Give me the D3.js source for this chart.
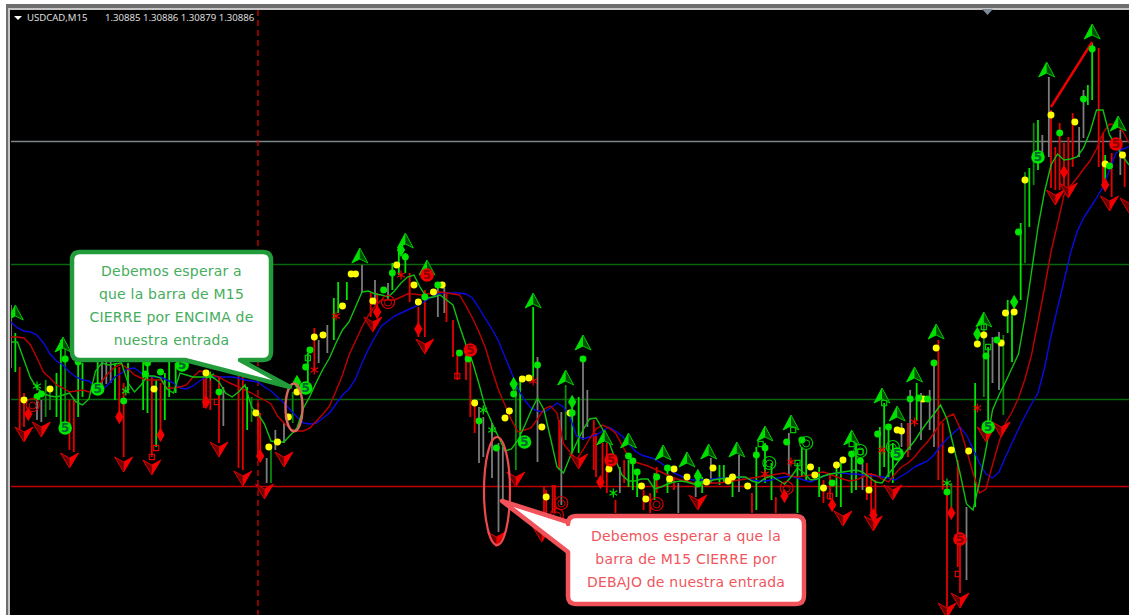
<!DOCTYPE html>
<html>
<head>
<meta charset="utf-8">
<style>
  html, body { margin: 0; padding: 0; background: #fff; overflow: hidden; }
  text { font-family: "DejaVu Sans", sans-serif; }
</style>
<script src="https://cdn.jsdelivr.net/npm/d3@7/dist/d3.min.js"></script>
</head>
<body>
<div class="canvas"></div>
<script>
// header of the MT4 window
const symbolLabel = 'USDCAD,M15';
const ohlcLabel = '1.30885 1.30886 1.30879 1.30886';

// price levels and the cursor, in points below the top of the window
const greyLevel = 141;
const greenLevels = [264, 399];
const redLevel = 486;
const cursorBar = 57;

// moving averages, one reading every 1.5 bars
const blueMa = [
  322,328,331,332,335,343,354,361,365,372,
  377,380,381,387,390,384,377,373,369,368,
  373,376,377,377,380,383,388,389,386,381,
  377,377,377,377,377,378,380,381,382,387,
  391,397,403,410,417,423,424,423,418,413,
  404,395,389,379,363,349,337,326,321,316,
  313,310,307,304,300,296,293,293,293,293,
  294,298,308,319,329,341,357,373,389,400,
  408,411,412,408,403,407,417,436,439,437,
  435,431,427,431,436,443,451,455,457,459,
  463,468,473,476,479,480,480,480,479,478,
  478,477,477,478,480,481,481,480,478,477,
  476,478,480,482,479,476,474,473,473,474,
  474,475,475,476,477,478,480,476,472,467,
  464,461,455,446,439,433,427,435,449,463,
  474,478,472,457,443,429,416,404,393,368,
  336,308,281,253,232,218,208,198,187,170,
  153,149,147];
const redMa = [
  337,337,338,345,358,372,378,385,388,392,
  391,390,392,389,381,373,367,364,369,375,
  378,380,380,380,388,388,387,385,377,371,
  372,375,377,381,384,387,390,393,397,400,
  404,416,423,429,431,431,428,421,414,406,
  391,375,355,341,327,315,306,300,300,300,
  297,294,294,295,294,293,292,293,294,295,
  306,318,332,348,370,390,405,420,432,430,
  428,419,409,406,413,444,452,460,450,439,
  429,425,428,433,445,457,462,464,466,469,
  472,475,478,480,481,483,484,484,483,483,
  482,481,480,479,478,477,476,475,474,473,
  476,477,476,475,473,472,474,477,479,481,
  480,477,474,475,479,482,474,467,463,457,
  449,442,433,423,417,414,428,450,473,493,
  489,465,442,423,412,398,379,355,322,288,
  252,224,195,186,178,169,161,149,133,124,
  125,131,143];
const greenMa = [
  342,342,360,378,388,394,396,397,395,393,
  402,405,399,371,363,365,364,363,383,392,
  385,376,376,378,389,393,373,375,377,377,
  377,377,382,393,397,392,385,407,414,424,
  441,442,442,435,428,408,396,382,369,358,
  343,330,322,307,292,291,294,295,297,291,
  283,277,275,288,298,297,295,300,305,326,
  345,362,384,408,423,437,451,449,440,426,
  411,398,410,438,467,473,457,443,430,419,
  418,429,442,460,475,481,481,479,479,489,
  487,484,482,481,482,484,484,482,480,479,
  478,478,477,477,481,483,478,476,480,484,
  477,468,473,480,479,476,474,473,472,471,
  470,472,477,482,483,474,466,457,449,441,
  431,422,414,405,419,446,473,504,510,482,
  449,410,395,382,368,354,317,272,227,192,
  165,154,160,159,157,148,132,110,110,135,
  145,156,165];
const maBars = d3.range(blueMa.length).map(i => i * 1.5);

// bar wicks: [bar, high, low]
const greyWicks = [[0,305,368],[6,393,420],[7,400,422],[21,362,384],[22,360,384],[23,362,383],[49,387,426],[59,458,483],
  [61,430,450],[63,423,443],[71,340,363],[73,325,353],[81,265,293],[84,280,305],[87,283,300],[98.5,287,317],[100,288,313],
  [108,407,463],[109,417,457],[111,423,478],[112.5,443,532],[113.5,447,500],[121.5,357,462],[127,412,505],[132,357,440],
  [133,390,427],[140.5,467,493],[154,483,513],[158,487,497],[161.5,458,483],[168,455,492],[179.5,433,477],[196.5,463,490],
  [205.5,423,447],[207.5,390,450],[210,393,440],[212,390,430],[213,363,447],[220.5,507,580],[226.5,337,383],[228,332,390],
  [238,135,153],[239.5,77,157],[246.5,127,157],[247.5,90,138],[256,130,175]];
const redWicks = [[2,367,432],[3,393,427],[13.5,400,450],[14.5,400,452],[25,367,415],[26,383,457],[32.5,377,457],[34.5,383,433],
  [44.5,373,408],[45,377,405],[46,377,410],[48,377,443],[52.5,375,468],[53.5,373,470],[57,403,453],[57.5,413,457],[70,328,370],
  [83,293,317],[84.5,293,313],[92,273,302],[94,307,337],[95.5,290,337],[100.5,293,322],[102,320,357],[103,350,380],[105,355,380],
  [106,358,417],[107,400,433],[123,487,533],[123.5,490,517],[125,485,513],[125.5,485,513],[126.5,420,470],[134.5,420,470],
  [135,433,477],[136.5,443,487],[137.5,443,493],[139.5,500,513],[141.5,460,483],[146,490,510],[147.5,493,513],[149,467,493],
  [153,477,490],[171,493,513],[176.5,497,513],[187.5,480,503],[189,475,500],[197.5,463,500],[198.5,473,513],[199.5,480,520],
  [207,423,457],[214,340,480],[215,423,490],[216,483,607],[218.5,460,567],[219,540,593],[240,110,188],[241,147,190],[242,123,190],
  [243,143,187],[244,137,190],[245,113,167],[251,48,167],[252,133,185],[254,153,197],[257,157,187]];
const limeWicks = [[1,333,372],[10.5,373,417],[11.5,340,427],[15.5,360,417],[16.5,363,397],[20,355,387],[24,363,400],[27,363,393],
  [30.5,360,410],[31.5,362,413],[33.5,380,447],[35.5,373,420],[36.5,360,397],[38,363,393],[54.5,387,430],[68.5,353,383],[74.5,298,340],
  [75.5,282,313],[77.5,282,300],[88,263,290],[89.5,247,275],[91,253,273],[120.5,307,380],[117.5,377,443],[129.5,407,453],[131,397,453],
  [142.5,460,487],[143.5,463,490],[144.5,472,497],[148.5,473,500],[151.5,467,493],[159.5,477,493],[163.5,465,485],[164.5,465,483],
  [166.5,477,497],[172,447,510],[175.5,463,500],[174,443,483],[181.5,463,513],[182.5,447,477],[183.5,450,480],[186.5,467,497],
  [190.5,463,497],[191.5,463,507],[194,453,493],[195,443,490],[200.5,427,477],[201.5,403,467],[202.5,430,477],[203.5,443,483],
  [209,383,420],[222.5,383,507],[225.5,347,427],[230,300,333],[231,313,362],[233,223,300],[235,168,227],[237,120,170],[248.5,85,105],
  [249.5,43,100],[252.5,155,180]];
const darkWicks = [[8,380,417],[9,390,410],[12.5,345,427],[55.5,397,422],[60,448,483],[65,392,423],[116.5,387,470],[128,385,440],
  [217,483,510],[224.5,320,397],[229,335,415],[234,172,263],[236,123,185]];

// thick trend segment on the last run up: [bar, level]
const trendSegment = [[240,107],[249.5,42]];

// arrows: [bar, tip level]
const upArrows = [[1,305],[12,337],[80.5,248],[91,233],[96,260],[120.5,293],[128,370],[132,335],[137,430],[142.5,433],[150.5,445],
  [156,452],[161,444],[167.5,442],[174,426],[180,415],[194,430],[201,388],[204.5,406],[208.5,367],[213.5,324],[224.5,312],[239,62],
  [249.5,24],[255.5,116]];
const downArrows = [[3,442],[7,437],[13.5,468],[26,472],[32.5,475],[48,457],[53.5,486],[58.5,499],[63,467],[83.5,332],[95.5,354],
  [112,547],[116.5,487],[122.5,542],[131,469],[158.5,510],[192,526],[199,531],[203.5,500],[216,618],[219,608],[225,442],[228.5,437],
  [241,205],[244,198],[253.5,211],[258,213]];

// indicator dots: [bar, level]
const yellowDots = [[3,400],[9,389],[33,389],[45,373],[56.5,413],[59.5,447],[61.5,442],[64,417],[66,392],[70,337],[72,335],[76.5,306],
  [78.5,274],[79.5,274],[83.5,301],[89,265],[93,285],[94,302],[97.5,292],[99.5,285],[107,403],[114,418],[115,411],[118,379],[119.5,378],
  [122.5,427],[123.5,497],[129,413],[138,469],[145.5,486],[146.5,499],[152,479],[153,469],[156,477],[160.5,482],[162,468],[165.5,481],
  [166.5,477],[170,486],[184.5,467],[185.5,475],[187.5,488],[190.5,465],[192,460],[198,490],[204.5,430],[205.5,431],[210.5,399],[213.5,348],
  [217,450],[221,451],[223,344],[224.5,335],[228.5,343],[229.5,313],[231.5,312],[234,180],[240,115],[245.5,122],[252.5,164],[256.5,155]];
const limeDots = [[12.5,359],[15.5,362],[6,397],[7,394],[26,401],[31,374],[34.5,372],[31.5,363],[48,392],[69,350],[68,367],[86,290],[88,273],
  [91,257],[95.5,297],[98.5,285],[103.5,353],[105.5,359],[108,421],[112,448],[116,394],[121.5,365],[129.5,413],[132,359],[142.5,456],[143.5,461],
  [144.5,472],[149,477],[151.5,468],[158.5,484],[172,455],[174,448],[179,442],[182.5,440],[189.5,483],[194,454],[196,461],[200,434],[202.5,427],
  [207.5,399],[209.5,398],[211.5,399],[213,363],[216,492],[225,356],[227.5,340],[232.5,232],[242,133],[247.5,99],[249.5,49],[253.5,166]];

// other indicator signs: [bar, level]
const limeFives = [[12.5,428],[20,389],[39.5,365],[68,388],[118.5,442],[204.5,454],[225.5,427],[237,157]];
const redFives = [[96,275],[106,350],[138.5,460],[219,539],[255,144]];
const limeRings = [[175,463],[183.5,443],[196,451],[203.5,447]];
const redRings = [[5,405],[87,302],[127,503],[126,515],[149,504],[179,488]];
const redDiamonds = [[4,414],[25,417],[34.5,435],[94,329],[84.5,312],[57.5,456],[45,402],[136,482],[189.5,505],[199,515],[217,513],[178.5,496],[243,172],[252.5,185]];
const limeDiamonds = [[66,382],[90,250],[116,384],[129.5,402],[158.5,476],[223,334],[231.5,302]];
const redSquares = [[33.5,448],[32.5,457],[47.5,402],[103,376],[189,496],[218.5,574]];
const limeSquares = [[68.5,358],[201.5,403],[180.5,430],[173,444],[181.5,463],[194,444],[196,452],[224.5,327],[225.5,347]];
const redStars = [[70,370],[75,316],[90,275],[120.5,381],[174,474],[180,462],[201,450],[208.5,422],[223,408]];
const limeStars = [[6,386],[26.5,391],[46,376],[109,410],[111,430],[139,493],[216,483]];

// callout texts
const greenNote = ['Debemos esperar a', 'que la barra de M15', 'CIERRE por ENCIMA de', 'nuestra entrada'];
const redNote = ['Debemos esperar a que la', 'barra de M15 CIERRE por', 'DEBAJO de nuestra entrada'];

const width = 1129;
const height = 615;

const svg = d3.select('.canvas')
  .append('svg')
    .attr('width', width)
    .attr('height', height)
    .style('display', 'block');

// window chrome, then the black chart area
svg.append('rect').attr('width', width).attr('height', height).attr('fill', '#fff');
svg.append('rect').attr('x', 6).attr('y', 4).attr('width', width).attr('height', height).attr('fill', '#6e6e6e');
svg.append('rect').attr('x', 8).attr('y', 8).attr('width', width).attr('height', height).attr('fill', '#c4c4c4');
svg.append('rect').attr('x', 10).attr('y', 10).attr('width', width).attr('height', height).attr('fill', '#000');

svg.append('defs').append('clipPath').attr('id', 'plot')
  .append('rect').attr('x', 11).attr('y', 10).attr('width', width).attr('height', height);

const graph = svg.append('g').attr('clip-path', 'url(#plot)');

// scales: x in bars, y in points below the top of the window
const x = d3.scaleLinear().domain([0, 258]).range([11, 1129]);
const y = d3.scaleLinear().domain([0, 615]).range([0, 615]);

//===========LEVELS=======================
const level = (value, colour) => graph.append('line')
  .attr('x1', 11).attr('x2', width)
  .attr('y1', y(value) + 0.5).attr('y2', y(value) + 0.5)
  .attr('stroke', colour)
  .attr('stroke-width', 1.4);

level(greyLevel, '#7d8488');
greenLevels.forEach(d => level(d, '#0b660b'));
level(redLevel, '#c00000');

graph.append('line')
  .attr('x1', x(cursorBar)).attr('x2', x(cursorBar))
  .attr('y1', 10).attr('y2', height)
  .attr('stroke', '#d80000')
  .attr('stroke-width', 1.3)
  .attr('stroke-dasharray', '6,4');

//===========WICKS=======================
const wicks = (data, colour) => graph.append('g')
  .selectAll('line')
  .data(data)
  .enter().append('line')
    .attr('x1', d => x(d[0])).attr('x2', d => x(d[0]))
    .attr('y1', d => y(d[1])).attr('y2', d => y(d[2]))
    .attr('stroke', colour)
    .attr('stroke-width', 1.8);

wicks(greyWicks, '#7c7c7c');
wicks(darkWicks, '#0c8a0c');
wicks(redWicks, '#e60000');
wicks(limeWicks, '#00e400');

//===========MOVING AVERAGES==============
const maLine = d3.line()
  .x((d, i) => x(maBars[i]))
  .y(d => y(d));

const ma = (data, colour) => graph.append('path')
  .attr('d', maLine(data))
  .attr('fill', 'none')
  .attr('stroke', colour)
  .attr('stroke-width', 1.4);

ma(blueMa, '#0a0ae0');
ma(redMa, '#c00000');
ma(greenMa, '#10c010');

graph.append('path')
  .attr('d', d3.line().x(d => x(d[0])).y(d => y(d[1]))(trendSegment))
  .attr('stroke', '#f00000')
  .attr('stroke-width', 2.4);

//===========ARROWS=======================
const upGroup = graph.append('g').selectAll('g')
  .data(upArrows)
  .enter().append('g')
    .attr('transform', d => `translate(${x(d[0])}, ${y(d[1])})`);
upGroup.append('path').attr('d', 'M0,0L8,15L0,11L-8,15Z')
  .attr('fill', '#004d00').attr('stroke', '#00c800').attr('stroke-width', 1);
upGroup.append('path').attr('d', 'M0,0L0,11L-8,15Z').attr('fill', '#00e000');

const downGroup = graph.append('g').selectAll('g')
  .data(downArrows)
  .enter().append('g')
    .attr('transform', d => `translate(${x(d[0])}, ${y(d[1])})`);
downGroup.append('path').attr('d', 'M0,0L9,-15L0,-10L-9,-15Z')
  .attr('fill', '#6a0000').attr('stroke', '#e00000').attr('stroke-width', 1);
downGroup.append('path').attr('d', 'M0,0L9,-15L0,-10Z').attr('fill', '#f00000');

//===========INDICATOR SIGNS==============
const sign = (data, type, size, fill, stroke) => graph.append('g')
  .selectAll('path')
  .data(data)
  .enter().append('path')
    .attr('d', d3.symbol().type(type).size(size))
    .attr('transform', d => `translate(${x(d[0])}, ${y(d[1])})`)
    .attr('fill', fill)
    .attr('stroke', stroke)
    .attr('stroke-width', stroke === 'none' ? 0 : 1.2);

sign(redSquares, d3.symbolSquare, 26, 'none', '#e00000');
sign(limeSquares, d3.symbolSquare, 26, 'none', '#00c800');
sign(redStars, d3.symbolAsterisk, 55, 'none', '#f00000');
sign(limeStars, d3.symbolAsterisk, 55, 'none', '#00e000');
sign(redDiamonds, d3.symbolDiamond, 60, '#f00000', 'none');
sign(limeDiamonds, d3.symbolDiamond, 60, '#00e000', 'none');
sign(yellowDots, d3.symbolCircle, 38, '#ffff00', 'none');
sign(limeDots, d3.symbolCircle, 38, '#00e600', 'none');

const rings = (data, colour) => {
  const g = graph.append('g').selectAll('g')
    .data(data)
    .enter().append('g')
      .attr('transform', d => `translate(${x(d[0])}, ${y(d[1])})`);
  g.append('circle').attr('r', 6.5).attr('fill', 'none').attr('stroke', colour).attr('stroke-width', 1.2);
  g.append('circle').attr('r', 3.5).attr('cy', 0.5).attr('fill', 'none').attr('stroke', colour).attr('stroke-width', 1);
};
rings(limeRings, '#00c800');
rings(redRings, '#d80000');

const fives = (data, fill, ink) => {
  const g = graph.append('g').selectAll('g')
    .data(data)
    .enter().append('g')
      .attr('transform', d => `translate(${x(d[0])}, ${y(d[1])})`);
  g.append('circle').attr('r', 6.8).attr('fill', fill);
  g.append('text').text('5')
    .attr('y', 4.2)
    .attr('text-anchor', 'middle')
    .attr('font-size', 12)
    .attr('font-weight', 'bold')
    .attr('fill', ink);
};
fives(limeFives, '#00e600', '#063');
fives(redFives, '#f00000', '#800');

//===========HEADER=======================
svg.append('path').attr('d', 'M14,16L22,16L18,20Z').attr('fill', '#fff');
svg.append('text').text(symbolLabel)
  .attr('x', 27).attr('y', 21)
  .attr('font-size', 9.6)
  .style('font-family', '"Open Sans", sans-serif')
  .attr('fill', '#e6e6e6');
svg.append('text').text(ohlcLabel)
  .attr('x', 105).attr('y', 21)
  .attr('font-size', 9.6)
  .style('font-family', '"Open Sans", sans-serif')
  .attr('fill', '#e6e6e6');
svg.append('path').attr('d', 'M982,9L993,9L987.5,15Z').attr('fill', '#7b8a96');

//===========NOTES=======================
// ellipses round the two bars the notes point at
svg.append('ellipse')
  .attr('cx', 294).attr('cy', 407.5).attr('rx', 8.5).attr('ry', 24)
  .attr('fill', 'none').attr('stroke', '#d9695f').attr('stroke-width', 2.4);
svg.append('ellipse')
  .attr('cx', 497).attr('cy', 491).attr('rx', 13).attr('ry', 54)
  .attr('fill', 'none').attr('stroke', '#ee4a4e').attr('stroke-width', 2.2);

// callout = rounded box with a tail, stroked then filled so the tail joins the box
const callout = (box, tail, border, ink, lines, firstY, gap) => {
  const outline = d3.path();
  const r = 8;
  outline.moveTo(box.x + r, box.y);
  outline.lineTo(box.x + box.w - r, box.y);
  outline.quadraticCurveTo(box.x + box.w, box.y, box.x + box.w, box.y + r);
  outline.lineTo(box.x + box.w, box.y + box.h - r);
  outline.quadraticCurveTo(box.x + box.w, box.y + box.h, box.x + box.w - r, box.y + box.h);
  if (tail.side === 'bottom') {
    outline.lineTo(tail.to, box.y + box.h);
    outline.lineTo(tail.tipX, tail.tipY);
    outline.lineTo(tail.from, box.y + box.h);
  }
  outline.lineTo(box.x + r, box.y + box.h);
  outline.quadraticCurveTo(box.x, box.y + box.h, box.x, box.y + box.h - r);
  if (tail.side === 'left') {
    outline.lineTo(box.x, tail.to);
    outline.lineTo(tail.tipX, tail.tipY);
    outline.lineTo(box.x, tail.from);
  }
  outline.lineTo(box.x, box.y + r);
  outline.quadraticCurveTo(box.x, box.y, box.x + r, box.y);
  outline.closePath();

  svg.append('path')
    .attr('d', outline.toString())
    .attr('fill', '#fff')
    .attr('stroke', border)
    .attr('stroke-width', 4.5)
    .attr('stroke-linejoin', 'round');

  svg.append('g').selectAll('text')
    .data(lines)
    .enter().append('text')
      .text(d => d)
      .attr('x', box.x + box.w / 2)
      .attr('y', (d, i) => firstY + i * gap)
      .attr('text-anchor', 'middle')
      .attr('font-size', 14)
      .attr('letter-spacing', 0.2)
      .attr('fill', ink);
};

callout({x: 72, y: 252, w: 199, h: 108},
  {side: 'bottom', from: 185, to: 240, tipX: 290, tipY: 387},
  '#229c3a', '#45ad5c', greenNote, 276, 23);

callout({x: 568, y: 516, w: 236, h: 88},
  {side: 'left', from: 522, to: 552, tipX: 502, tipY: 501},
  '#f2525a', '#f0565e', redNote, 541, 23);
</script>
</body>
</html>
